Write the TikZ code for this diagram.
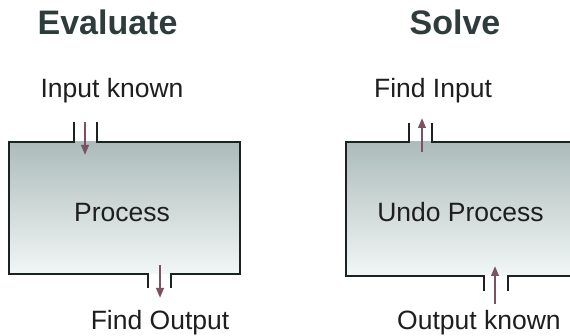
\documentclass[tikz,border=0pt]{standalone}
\usepackage{fontspec}
\setmainfont{Liberation Sans}
\usetikzlibrary{arrows.meta}
\definecolor{titlecol}{RGB}{46,60,60}
\definecolor{labelcol}{RGB}{30,30,30}
\definecolor{wallcol}{RGB}{26,34,34}
\definecolor{arrowcol}{RGB}{122,82,98}
\definecolor{boxtop}{RGB}{172,188,186}
\definecolor{boxmid}{RGB}{200,212,211}
\definecolor{boxbot}{RGB}{242,246,246}
\tikzset{
  titletext/.style={anchor=base, font=\fontsize{34}{40}\selectfont\bfseries, text=titlecol, inner sep=0pt},
  labeltext/.style={anchor=base, font=\fontsize{26.5}{32}\selectfont, text=labelcol, inner sep=0pt},
  wall/.style={draw=wallcol, line width=2.8pt, line join=miter},
  boxfill/.style={top color=boxtop, middle color=boxmid, bottom color=boxbot, draw=none},
  flow/.style={draw=arrowcol, line width=2.2pt, -{Triangle[length=10pt,width=7.5pt]}}
}
\begin{document}
\begin{tikzpicture}[x=1pt,y=-1pt]
\useasboundingbox (0,0) rectangle (570,336);
\fill[white] (0,0) rectangle (570,336);
% ---------- Evaluate ----------
\node[titletext] (evaltitle) at (107.5,35) {Evaluate};
\node[labeltext] (inknown) at (112,98) {Input known};
\shade[boxfill] (9,142) rectangle (240,274);
\node[labeltext] (process) at (122,222) {Process};
\node[labeltext] (findout) at (160,330) {Find Output};
\draw[wall] (74,122) -- (74,142) -- (9,142) -- (9,274) -- (148,274) -- (148,288);
\draw[wall] (97,122) -- (97,142) -- (240,142) -- (240,274) -- (171,274) -- (171,288);
\coordinate (e1s) at (85,122);
\coordinate (e1e) at (85,155);
\coordinate (e2s) at (160,265);
\coordinate (e2e) at (160,298);
\draw[flow] (e1s) -- (e1e);
\draw[flow] (e2s) -- (e2e);
% ---------- Solve ----------
\node[titletext] (solvetitle) at (455,35) {Solve};
\node[labeltext] (findin) at (433,98) {Find Input};
\shade[boxfill] (346,142) rectangle (572,276);
\node[labeltext] (undo) at (460.5,222) {Undo Process};
\node[labeltext] (outknown) at (479,330) {Output known};
\draw[wall] (409,123) -- (409,142) -- (346,142) -- (346,276) -- (484,276) -- (484,291);
\draw[wall] (432,123) -- (432,142) -- (575,142);
\draw[wall] (508,291) -- (508,276) -- (575,276);
\coordinate (s1s) at (422,152);
\coordinate (s1e) at (422,118);
\coordinate (s2s) at (495,304);
\coordinate (s2e) at (495,266);
\draw[flow] (s1s) -- (s1e);
\draw[flow] (s2s) -- (s2e);
\end{tikzpicture}
\end{document}
